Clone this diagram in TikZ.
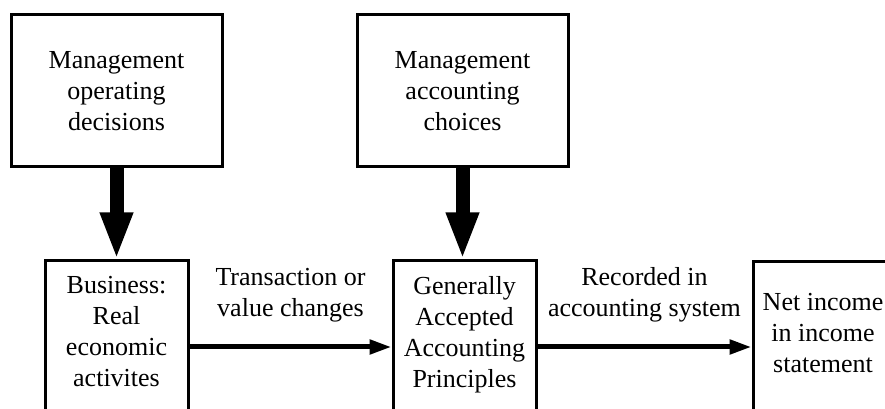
\documentclass[tikz,border=0pt]{standalone}
\usepackage{fontspec}
\setmainfont{Liberation Serif}
\usetikzlibrary{arrows.meta}
\tikzset{
  box/.style={draw, line width=3pt, align=center, font=\fontsize{26}{31}\selectfont},
  lowbox/.style={box, anchor=north, inner ysep=15.5pt, text depth=60pt},
  bigarrow/.style={line width=14pt, -{Triangle[length=47pt,width=30pt]}},
  flowarrow/.style={line width=5pt, -{Triangle[length=22pt,width=14pt]}},
  flowlabel/.style={align=center, font=\fontsize{26}{31}\selectfont}
}
\begin{document}
\begin{tikzpicture}[x=1pt,y=1pt]
    \clip (0,0) rectangle (885,409);
    % management boxes on top
    \node[box, minimum width=211pt, minimum height=152pt] (opdec) at (116.5,318) {Management\\operating\\decisions};
    \node[box, minimum width=211pt, minimum height=152pt] (acchoice) at (462.5,318) {Management\\accounting\\choices};
    % lower row
    \node[lowbox, minimum width=143pt] (biz) at (116.5,149.5) {Business:\\Real\\economic\\activites};
    \node[lowbox, minimum width=143pt] (gaap) at (464.5,149.5) {Generally\\Accepted\\Accounting\\Principles};
    \node[lowbox, minimum width=140pt, inner ysep=31pt, text depth=100pt] (netinc) at (823,148.5) {Net income\\in income\\statement};
    % arrows
    \draw[bigarrow] (opdec.south) -- (biz.north);
    \draw[bigarrow] (acchoice.south) -- (gaap.north -| acchoice.south);
    \draw[flowarrow] ([yshift=-87.5pt]biz.north east) -- ([yshift=-87.5pt]gaap.north west)
        node[flowlabel, midway, yshift=52pt] {Transaction or\\value changes};
    \draw[flowarrow] ([yshift=-87.5pt]gaap.north east) -- ([yshift=-86.5pt]netinc.north west)
        node[flowlabel, midway, yshift=52pt] {Recorded in\\accounting system};
\end{tikzpicture}
\end{document}
